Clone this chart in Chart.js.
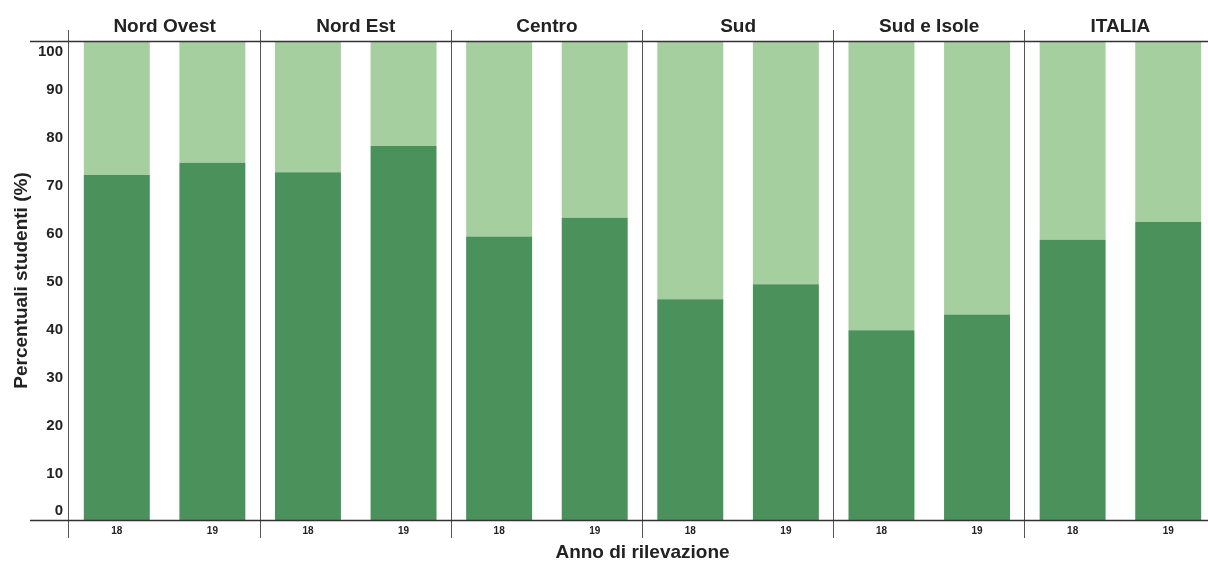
<!DOCTYPE html>
<html>
<head>
<meta charset="utf-8">
<script src="https://cdn.jsdelivr.net/npm/chart.js@4.4.1/dist/chart.umd.min.js"></script>
<style>
  html, body { margin: 0; padding: 0; background: #fff; overflow: hidden; }
  #wrap { width: 1220px; height: 561px; }
</style>
</head>
<body>
<div id="wrap"><canvas id="chart" width="1220" height="561"></canvas></div>
<script>
// dati
var gruppi = ['Nord Ovest', 'Nord Est', 'Centro', 'Sud', 'Sud e Isole', 'ITALIA'];
var anni = ['18', '19', '18', '19', '18', '19', '18', '19', '18', '19', '18', '19'];
var quotaScura = [72.0, 74.6, 72.6, 78.1, 59.2, 63.1, 46.1, 49.2, 39.6, 42.9, 58.5, 62.2];
var quotaChiara = [28.0, 25.4, 27.4, 21.9, 40.8, 36.9, 53.9, 50.8, 60.4, 57.1, 41.5, 37.8];
var tickY = [0, 10, 20, 30, 40, 50, 60, 70, 80, 90, 100];

var verdeScuro = '#4a915c';
var verdeChiaro = '#a6cfa0';
var testo = '#222222';

Chart.defaults.font.family = "'Liberation Sans', Arial, sans-serif";
Chart.defaults.color = testo;

// linee orizzontali a 0 e 100 che escono a sinistra
var lineePlugin = {
    id: 'lineeBordo',
    afterDatasetsDraw: function (chart) {
        var ctx = chart.ctx;
        var y = chart.scales.y;
        ctx.save();
        ctx.strokeStyle = '#333';
        ctx.lineWidth = 1.5;
        [0, 100].forEach(function (v) {
            var py = Math.round(y.getPixelForValue(v)) + 0.5;
            ctx.beginPath();
            ctx.moveTo(30, py);
            ctx.lineTo(chart.chartArea.right, py);
            ctx.stroke();
        });
        ctx.restore();
    }
};

var ctx = document.getElementById('chart').getContext('2d');
new Chart(ctx, {
    type: 'bar',
    data: {
        labels: anni,
        datasets: [
            { label: 'scuro', data: quotaScura, backgroundColor: verdeScuro, xAxisID: 'x', yAxisID: 'y', barPercentage: 0.69, categoryPercentage: 1 },
            { label: 'chiaro', data: quotaChiara, backgroundColor: verdeChiaro, xAxisID: 'x', yAxisID: 'y', barPercentage: 0.69, categoryPercentage: 1 }
        ]
    },
    options: {
        responsive: false,
        animation: false,
        layout: { padding: { left: 0, right: 4, top: 0, bottom: 0 } },
        plugins: { legend: { display: false }, tooltip: { enabled: false } },
        scales: {
            x: {
                stacked: true,
                position: 'bottom',
                weight: 1,
                grid: { display: false, drawTicks: false },
                border: { display: false },
                ticks: { padding: 5, font: { size: 10, weight: 'bold' }, color: testo, maxRotation: 0 },
                title: { display: true, text: 'Anno di rilevazione', font: { size: 19, weight: 'bold' }, color: testo, padding: { top: 0, bottom: -3 } },
                afterFit: function (s) { s.height = 41; }
            },
            xGruppi: {
                type: 'category',
                labels: gruppi,
                position: 'bottom',
                weight: 0,
                offset: true,
                grid: { display: true, offset: true, drawOnChartArea: true, color: '#555', lineWidth: 1, tickLength: 18 },
                border: { display: false },
                ticks: { display: false },
                afterFit: function (s) { s.height = 0; }
            },
            xTitoli: {
                type: 'category',
                labels: gruppi,
                position: 'top',
                offset: true,
                grid: { display: true, offset: true, drawOnChartArea: false, color: '#555', lineWidth: 1, tickLength: 11 },
                border: { display: false },
                ticks: { padding: -8, font: { size: 19, weight: 'bold' }, color: testo, maxRotation: 0 },
                afterFit: function (s) { s.height = 41; }
            },
            y: {
                stacked: true,
                display: false,
                min: 0,
                max: 100
            },
            yEtichette: {
                type: 'linear',
                position: 'left',
                min: 0,
                max: 100,
                // 0 e 100 spostati verso l'interno come nell'originale
                afterBuildTicks: function (s) {
                    s.ticks = tickY.map(function (v) {
                        var pos = v === 0 ? 1.9 : (v === 100 ? 97.8 : v - 0.3);
                        return { value: pos };
                    });
                },
                grid: { display: false, drawTicks: false },
                border: { display: false },
                ticks: {
                    padding: 6,
                    font: { size: 15, weight: 'bold' },
                    color: testo,
                    callback: function (value, index) { return String(tickY[index]); }
                },
                title: { display: true, text: 'Percentuali studenti (%)', font: { size: 19, weight: 'bold' }, color: testo, padding: { top: 10, bottom: 0 } },
                afterFit: function (s) { s.width = 69; }
            }
        }
    },
    plugins: [lineePlugin]
});
</script>
</body>
</html>
